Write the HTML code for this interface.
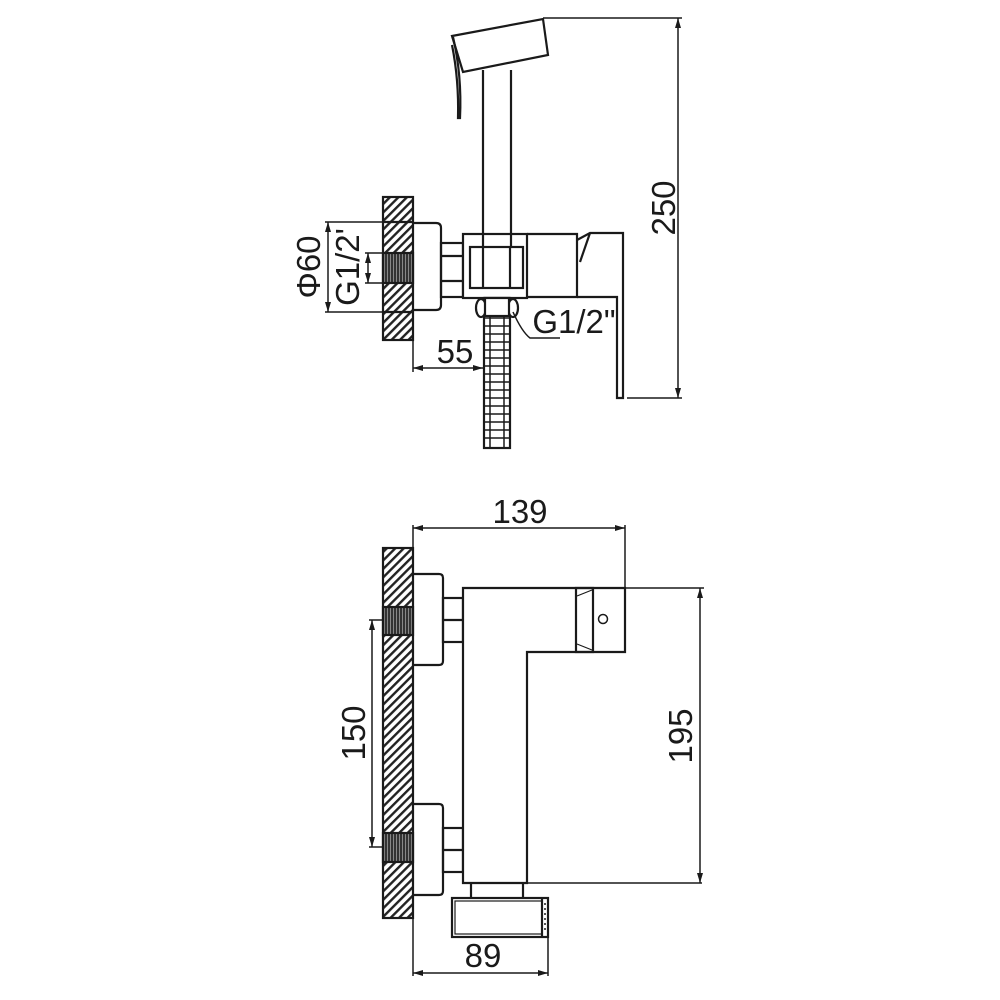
<!DOCTYPE html>
<html><head><style>html,body{margin:0;padding:0;background:#fff}svg{display:block}text{font-family:"Liberation Sans",sans-serif;fill:#1a1a1a}</style></head>
<body>
<svg width="1000" height="1000" viewBox="0 0 1000 1000" xmlns="http://www.w3.org/2000/svg">
<defs>
<pattern id="h" width="6" height="6" patternUnits="userSpaceOnUse" patternTransform="rotate(45)">
<rect width="6" height="6" fill="#fff"/><rect width="2.4" height="6" fill="#222"/>
</pattern>
<pattern id="t" width="3" height="3" patternUnits="userSpaceOnUse">
<rect width="3" height="3" fill="#333"/><rect width="1" height="3" fill="#888"/>
</pattern>
<marker id="a" viewBox="0 0 10 6" refX="10" refY="3" markerWidth="10" markerHeight="6" orient="auto-start-reverse" markerUnits="userSpaceOnUse"><path d="M0,0 L10,3 L0,6 z" fill="#1a1a1a"/></marker>
</defs>
<g stroke="#1a1a1a" stroke-width="2.2" fill="none">
<!-- TOP VIEW -->
<rect x="383" y="197" width="30" height="143" fill="url(#h)"/>
<rect x="383" y="253" width="30" height="30" fill="url(#t)"/>
<line x1="383" y1="222" x2="413" y2="222"/><line x1="383" y1="312" x2="413" y2="312"/>
<path d="M413,223 H436 Q441,223 441,228 V305 Q441,310 436,310 H413"/>
<rect x="441" y="243" width="22" height="54"/>
<line x1="441" y1="256" x2="463" y2="256"/><line x1="441" y1="281" x2="463" y2="281"/>
<rect x="463" y="234" width="64" height="64" fill="#fff"/>
<rect x="470" y="247" width="53" height="41"/>
<line x1="483" y1="247" x2="483" y2="288"/><line x1="510" y1="247" x2="510" y2="288"/>
<line x1="483" y1="70" x2="483" y2="247"/><line x1="511" y1="70" x2="511" y2="247"/>
<path d="M452,36 L543,19 L548,55 L463,72 Z" fill="#fff"/>
<path d="M453,37 Q462,75 460,118 L458,118 Q459,80 452,45"/>
<path d="M527,234 H577 V297 H527"/>
<path d="M577,240 L590,233 H623 V398 H617 V297 H577"/>
<path d="M590,233 L580,262"/>
<!-- hose -->
<rect x="484" y="298" width="26" height="150" fill="#fff"/>
<line x1="490" y1="298" x2="490" y2="448" stroke-width="1.5"/><line x1="504" y1="298" x2="504" y2="448" stroke-width="1.5"/>
<path d="M484,318 H510 M484,326 H510 M484,334 H510 M484,342 H510 M484,350 H510 M484,358 H510 M484,366 H510 M484,374 H510 M484,382 H510 M484,390 H510 M484,398 H510 M484,406 H510 M484,414 H510 M484,422 H510 M484,430 H510 M484,438 H510" stroke-width="1.5"/>
<ellipse cx="481" cy="308" rx="5" ry="9" fill="#fff"/><ellipse cx="513" cy="308" rx="5" ry="9" fill="#fff"/>
<rect x="485" y="298" width="24" height="18" fill="#fff"/>
<path d="M513,312 Q522,332 530,338 H560" stroke-width="1.5"/>
<!-- dims top -->
<g stroke-width="1.5">
<line x1="543" y1="18" x2="682" y2="18"/><line x1="627" y1="398" x2="682" y2="398"/>
<line x1="678" y1="18" x2="678" y2="398" marker-start="url(#a)" marker-end="url(#a)"/>
<line x1="325" y1="222" x2="383" y2="222"/><line x1="325" y1="312" x2="383" y2="312"/>
<line x1="328" y1="222" x2="328" y2="312" marker-start="url(#a)" marker-end="url(#a)"/>
<line x1="365" y1="253" x2="383" y2="253"/><line x1="365" y1="283" x2="383" y2="283"/>
<line x1="368" y1="253" x2="368" y2="283" marker-start="url(#a)" marker-end="url(#a)"/>
<line x1="413" y1="312" x2="413" y2="372"/>
<line x1="413" y1="368" x2="483" y2="368" marker-start="url(#a)" marker-end="url(#a)"/>
</g>
<!-- BOTTOM VIEW -->
<rect x="383" y="548" width="30" height="370" fill="url(#h)"/>
<rect x="383" y="607" width="30" height="28" fill="url(#t)"/>
<rect x="383" y="833" width="30" height="29" fill="url(#t)"/>
<path d="M413,574 H439 Q443,574 443,578 V661 Q443,665 439,665 H413"/>
<path d="M413,804 H439 Q443,804 443,808 V891 Q443,895 439,895 H413"/>
<rect x="443" y="598" width="20" height="44"/><line x1="443" y1="620" x2="463" y2="620"/>
<rect x="443" y="828" width="20" height="44"/><line x1="443" y1="850" x2="463" y2="850"/>
<path d="M463,588 H625 V652 H527 V883 H463 Z" fill="#fff"/>
<line x1="527" y1="883" x2="702" y2="883" stroke-width="1.5"/>
<rect x="576" y="588" width="17" height="64"/>
<path d="M577,596 L592,590 M577,644 L592,650" stroke-width="1.2"/>
<circle cx="603" cy="619" r="4.5" stroke-width="1.5"/>
<line x1="471" y1="883" x2="471" y2="898"/><line x1="523" y1="883" x2="523" y2="898"/>
<rect x="452" y="898" width="96" height="39" fill="#fff"/>
<rect x="455" y="901" width="87" height="33" stroke-width="1.2"/>
<line x1="542" y1="898" x2="542" y2="937"/>
<path d="M545,903 V933" stroke-dasharray="2,3" stroke-width="1.5"/>
<g stroke-width="1.5">
<line x1="413" y1="525" x2="413" y2="548"/><line x1="625" y1="525" x2="625" y2="588"/>
<line x1="413" y1="528" x2="625" y2="528" marker-start="url(#a)" marker-end="url(#a)"/>
<line x1="625" y1="588" x2="704" y2="588"/>
<line x1="700" y1="588" x2="700" y2="883" marker-start="url(#a)" marker-end="url(#a)"/>
<line x1="369" y1="620" x2="383" y2="620"/><line x1="369" y1="847" x2="383" y2="847"/>
<line x1="372" y1="620" x2="372" y2="847" marker-start="url(#a)" marker-end="url(#a)"/>
<line x1="413" y1="918" x2="413" y2="976"/><line x1="548" y1="937" x2="548" y2="976"/>
<line x1="413" y1="973" x2="548" y2="973" marker-start="url(#a)" marker-end="url(#a)"/>
</g>
</g>
<g font-size="33">
<text x="0" y="0" transform="translate(675,208) rotate(-90)" text-anchor="middle">250</text>
<text x="0" y="0" transform="translate(320,267) rotate(-90)" text-anchor="middle">Φ60</text>
<text x="0" y="0" transform="translate(359,267) rotate(-90)" text-anchor="middle">G1/2'</text>
<text x="455" y="363" text-anchor="middle">55</text>
<text x="574" y="333" text-anchor="middle">G1/2"</text>
<text x="520" y="523" text-anchor="middle">139</text>
<text x="0" y="0" transform="translate(692,736) rotate(-90)" text-anchor="middle">195</text>
<text x="0" y="0" transform="translate(365,733) rotate(-90)" text-anchor="middle">150</text>
<text x="483" y="967" text-anchor="middle">89</text>
</g>
</svg>
</body></html>
